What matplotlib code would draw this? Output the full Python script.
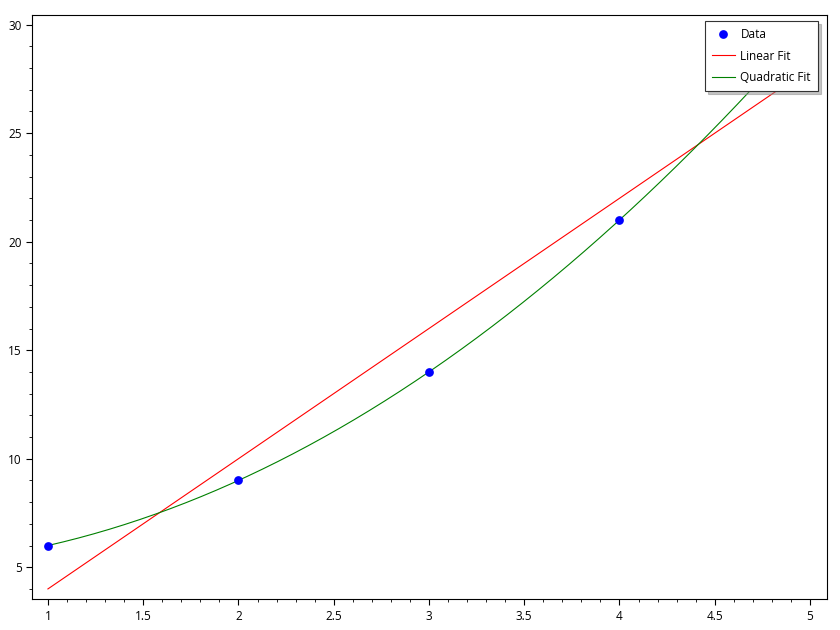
import matplotlib.pyplot as plt
import numpy as np
from matplotlib.ticker import MultipleLocator

x = np.array([1, 2, 3, 4, 5])
y = np.array([6, 9, 14, 21, 30])

# fits from the data
lin = np.polyfit(x, y, 1)
quad = np.polyfit(x, y, 2)
xs = np.linspace(x.min(), x.max(), 200)

plt.rcParams['font.family'] = ['Open Sans', 'DejaVu Sans']

fig = plt.figure(figsize=(8.4, 6.3), dpi=100)
ax = fig.add_axes([0.038, 0.049, 0.9465, 0.927])

ax.plot(xs, np.polyval(lin, xs), color='red', lw=0.8, label='Linear Fit', zorder=2)
ax.plot(xs, np.polyval(quad, xs), color='green', lw=0.8, label='Quadratic Fit', zorder=2)
ax.plot(x, y, 'o', color='blue', ms=6.3, mew=0, label='Data', zorder=3)

ax.set_xlim(0.916, 5.089)
ax.set_ylim(3.53, 30.44)
ax.xaxis.set_major_locator(MultipleLocator(0.5))
ax.xaxis.set_minor_locator(MultipleLocator(0.1))
ax.yaxis.set_major_locator(MultipleLocator(5))
ax.yaxis.set_minor_locator(MultipleLocator(1))
ax.tick_params(which='major', length=4, labelsize=8.5)
ax.tick_params(which='minor', length=2)
ax.xaxis.set_major_formatter(plt.FuncFormatter(lambda v, p: f'{v:g}'))
for s in ax.spines.values():
    s.set_linewidth(0.8)

handles, labels = ax.get_legend_handles_labels()
order = [2, 0, 1]
leg = ax.legend([handles[i] for i in order], [labels[i] for i in order],
                loc='upper right', bbox_to_anchor=(818 / 840, 1 - 21 / 630),
                bbox_transform=fig.transFigure, borderaxespad=0,
                fontsize=8.5, fancybox=False, shadow={'shade': 0.45},
                edgecolor='#333333', framealpha=1,
                borderpad=0.6, handlelength=1.9, handletextpad=0.5,
                labelspacing=0.72)
leg.get_frame().set_linewidth(0.8)

fig.savefig('out.png', dpi=100)
